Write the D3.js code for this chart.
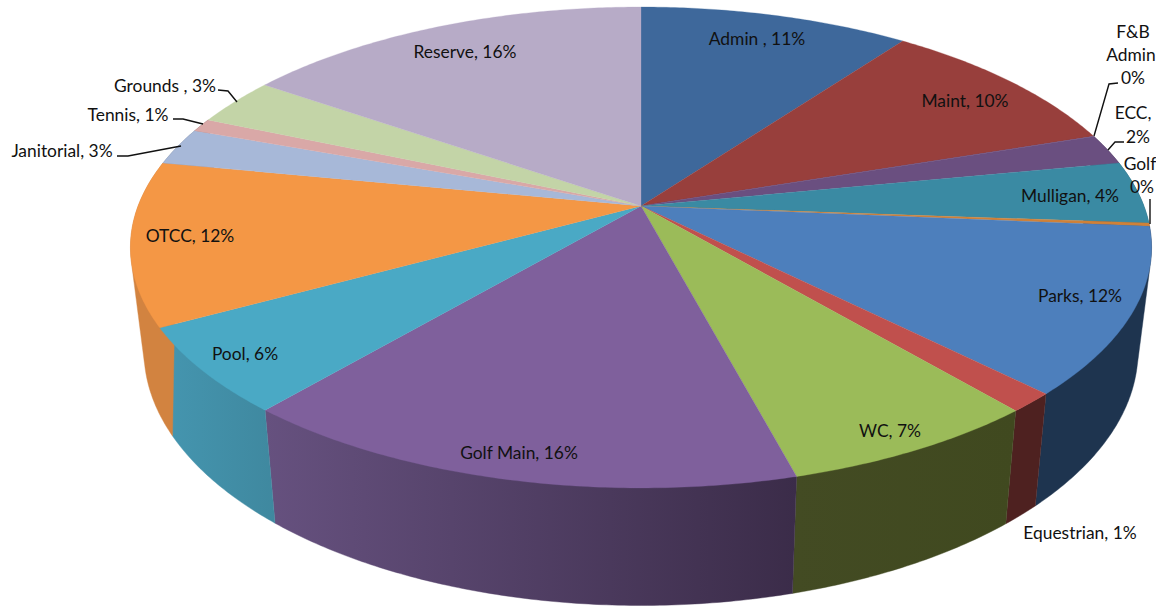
<!DOCTYPE html>
<html>
<head>
<meta charset="utf-8">
<script src="https://cdn.jsdelivr.net/npm/d3@7/dist/d3.min.js"></script>
<style>html,body{margin:0;padding:0;background:#fff;overflow:hidden}svg{display:block}text{font-family:Lato,"Open Sans",sans-serif;font-size:17.4px;fill:#111}</style>
</head>
<body>
<svg id="chart" width="1156" height="608"></svg>
<script>
// Data
const categories = ["Admin","Maint","F&B Admin","ECC","Mulligan","Golf","Parks","Equestrian","WC","Golf Main","Pool","OTCC","Janitorial","Tennis","Grounds","Reserve"];
const shares = [10.1,9.8,0.02,2.03,4.2,0.22,11.13,1.3,7.05,15.4,5.8,11.0,2.5,0.9,3.2,15.35];
const labelLines = [["Admin , 11%"],["Maint, 10%"],["F&B","Admin","0%"],["ECC,","2%"],["Mulligan, 4%"],["Golf","0%"],["Parks, 12%"],["Equestrian, 1%"],["WC, 7%"],["Golf Main, 16%"],["Pool, 6%"],["OTCC, 12%"],["Janitorial, 3%"],["Tennis, 1%"],["Grounds , 3%"],["Reserve, 16%"]];
// Style
const topColors = ["#3e689b","#983f3c","#6a4f80","#6a4f80","#3a8aa3","#d08138","#4d7fbc","#c0504d","#9bbb59","#7f609c","#4aa9c5","#f49745","#a7b8d8","#d9a8a7","#c3d4a7","#b7abc7"];
const wallLeft = ["#2c4a6e","#6c2d2b","#4b3859","#4b3859","#296274","#a05f24","#1e344f","#4e2120","#434b23","#66517f","#4596b0","#d28340","#76839a","#9a7776","#8a9676","#82798d"];
const wallRight = ["#2c4a6e","#6c2d2b","#4b3859","#4b3859","#296274","#a05f24","#1e344f","#4e2120","#40491f","#3b2c49","#3f889f","#d28340","#76839a","#9a7776","#8a9676","#82798d"];
// Layout: one [x, y] per text line
const labelAnchors = [
  [[757,39]],[[965,101]],
  [[1133,32],[1131,55],[1133,78]],
  [[1133,113],[1138,137]],
  [[1070,196]],
  [[1140,164],[1142,187]],
  [[1080,296]],[[1080,533]],[[890,431]],[[519,453]],[[245,354]],[[190,236]],[[62,151]],[[128,115]],[[165,86]],[[465,52]]
];
const leaders = [
  [[1118,83],[1109,84],[1094,136]],
  [[1124,142],[1115,142],[1108,150]],
  [[1150,199],[1150,224]],
  [[117,156],[128,156],[181,146]],
  [[173,119],[183,119],[203,124]],
  [[218,90],[228,91],[237,102]]
];
const persp = 0.1725;
const topPlane = {x:641, y:206, a:502.9, b:233.3};
const basePlane = {x:641, y:307, a:489.6, b:247};

function project(plane, angle){
  const u = Math.sin(angle), v = Math.cos(angle), w = 1 + persp*v;
  return [plane.x + plane.a*u/w, plane.y - plane.b*v/w];
}
function rim(plane, a0, a1){
  const n = Math.max(2, Math.ceil((a1-a0)/0.01));
  return d3.range(n+1).map(i => project(plane, a0 + (a1-a0)*i/n));
}

const svg = d3.select("#chart");
const defs = svg.append("defs");
const line = d3.line();
const arcs = d3.pie().sort(null).value(d => d)(shares);

// Walls: hull of both rims; the part above the rim is covered by the top faces
const deg = Math.PI/180;
const walls = svg.append("g");
arcs.forEach((d,i) => {
  if (d.endAngle < 78*deg || d.startAngle > 290*deg) return;
  const pts = rim(topPlane, d.startAngle, d.endAngle).concat(rim(basePlane, d.startAngle, d.endAngle));
  const hull = d3.polygonHull(pts);
  const xs = pts.map(p => p[0]);
  const gid = "wall"+i;
  const g = defs.append("linearGradient").attr("id",gid).attr("gradientUnits","userSpaceOnUse")
    .attr("x1",d3.min(xs)).attr("x2",d3.max(xs)).attr("y1",0).attr("y2",0);
  g.append("stop").attr("offset",0).attr("stop-color",wallLeft[i]);
  g.append("stop").attr("offset",1).attr("stop-color",wallRight[i]);
  walls.append("path").attr("d",line(hull)+"Z").attr("fill",`url(#${gid})`)
    .attr("stroke",`url(#${gid})`).attr("stroke-width",0.4);
});

// Top faces
svg.append("g").selectAll("path").data(arcs).join("path")
  .attr("d", d => line([[topPlane.x,topPlane.y]].concat(rim(topPlane,d.startAngle,d.endAngle)))+"Z")
  .attr("fill",(d,i)=>topColors[i]).attr("stroke",(d,i)=>topColors[i]).attr("stroke-width",0.3);

// Leaders
svg.append("g").selectAll("path").data(leaders).join("path")
  .attr("d",line).attr("fill","none").attr("stroke","#111").attr("stroke-width",1.4);

// Labels
svg.append("g").selectAll("text").data(labelLines).join("text")
  .attr("text-anchor","middle")
  .each(function(lines,i){
    const sel = d3.select(this);
    lines.forEach((s,j)=>{
      sel.append("tspan").attr("x",labelAnchors[i][j][0]).attr("y",labelAnchors[i][j][1]+6).text(s);
    });
  });
</script>
</body>
</html>
